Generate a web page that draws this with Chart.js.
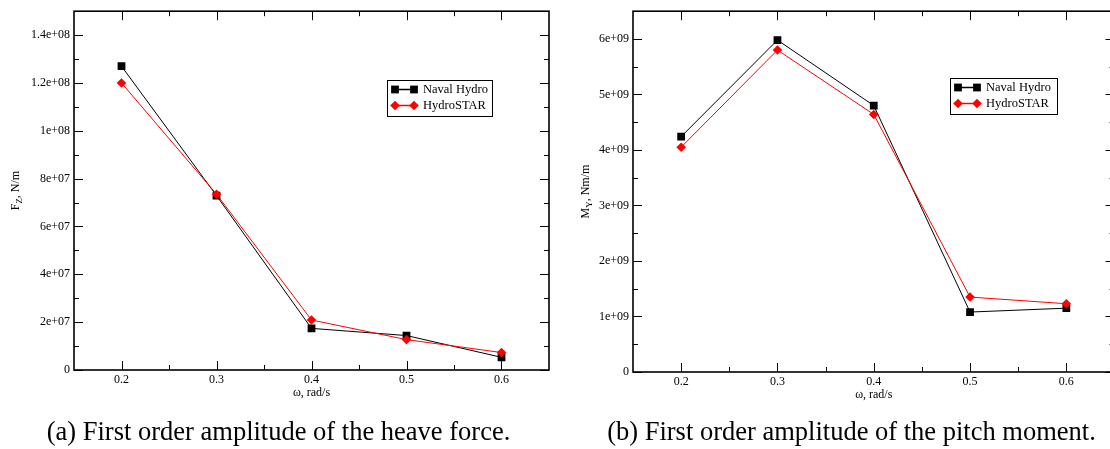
<!DOCTYPE html>
<html>
<head>
<meta charset="utf-8">
<script src="https://cdn.jsdelivr.net/npm/chart.js@4.4.0/dist/chart.umd.min.js"></script>
<style>
  html, body { margin: 0; padding: 0; background: #fff; overflow: hidden; width: 1110px; height: 449px; }
  #wrapA { position: absolute; left: 0; top: 0; }
  #wrapB { position: absolute; left: 560px; top: 0; }
  .caption {
    position: absolute; top: 416px; line-height: 30px;
    font-family: 'Liberation Serif', 'Times New Roman', serif; font-size: 26.5px;
    white-space: nowrap; transform: translateX(-50%); color: #000;
  }
</style>
</head>
<body>
<div id="wrapA"><canvas id="heaveChart" width="560" height="420"></canvas></div>
<div id="wrapB"><canvas id="pitchChart" width="560" height="420"></canvas></div>
<div class="caption" style="left:278.5px">(a) First order amplitude of the heave force.</div>
<div class="caption" style="left:851.5px">(b) First order amplitude of the pitch moment.</div>
<script>
  // frecuencias (rad/s)
  const omega = [0.2, 0.3, 0.4, 0.5, 0.6];

  // fuerza de arrastre vertical, N/m
  const heaveNaval = [1.27e8, 7.29e7, 1.74e7, 1.44e7, 5.3e6];
  const heaveHydroStar = [1.20e8, 7.35e7, 2.09e7, 1.27e7, 7.3e6];

  // momento de cabeceo, Nm/m
  const pitchNaval = [4.24e9, 5.98e9, 4.80e9, 1.08e9, 1.15e9];
  const pitchHydroStar = [4.05e9, 5.80e9, 4.64e9, 1.35e9, 1.23e9];

  // marcas de los ejes
  const omegaTicks = [0.2, 0.3, 0.4, 0.5, 0.6];
  const heaveTicks = [0, 2e7, 4e7, 6e7, 8e7, 1e8, 1.2e8, 1.4e8];
  const pitchTicks = [0, 1e9, 2e9, 3e9, 4e9, 5e9, 6e9];

  const serif = "'Liberation Serif', 'Times New Roman', serif";

  function expLabel(v) {
    if (v === 0) return '0';
    return v.toExponential().replace(/e\+(\d)$/, 'e+0$1');
  }

  // marco con marcas hacia dentro en los cuatro lados
  const frameTicks = {
    id: 'frameTicks',
    beforeDatasetsDraw(chart) {
      const ctx = chart.ctx;
      const a = chart.chartArea;
      const xs = chart.scales.x, ys = chart.scales.y;
      const mids = vals => vals.slice(1).map((v, i) => (v + vals[i]) / 2);
      const xv = xs.ticks.map(t => t.value);
      const yv = ys.ticks.map(t => t.value);
      ctx.save();
      ctx.strokeStyle = '#000';
      ctx.lineWidth = 1;
      ctx.beginPath();
      const xTick = (v, len) => {
        const px = Math.round(xs.getPixelForValue(v)) + 0.5;
        ctx.moveTo(px, a.bottom); ctx.lineTo(px, a.bottom - len);
        ctx.moveTo(px, a.top); ctx.lineTo(px, a.top + len);
      };
      const yTick = (v, len) => {
        const py = Math.round(ys.getPixelForValue(v)) + 0.5;
        ctx.moveTo(a.left, py); ctx.lineTo(a.left + len, py);
        ctx.moveTo(a.right, py); ctx.lineTo(a.right - len, py);
      };
      xv.forEach(v => xTick(v, 9));
      mids(xv).forEach(v => xTick(v, 5));
      yv.forEach(v => yTick(v, 9));
      mids(yv).concat([yv[yv.length - 1] + (yv[1] - yv[0]) / 2]).forEach(v => {
        if (v < ys.max) yTick(v, 5);
      });
      ctx.stroke();
      ctx.lineWidth = 1.6;
      ctx.strokeRect(a.left, a.top, a.right - a.left, a.bottom - a.top);
      ctx.restore();
    }
  };

  // títulos de los ejes (con subíndice en el eje y)
  const axisTitles = {
    id: 'axisTitles',
    afterDraw(chart, args, opts) {
      const ctx = chart.ctx;
      const a = chart.chartArea;
      ctx.save();
      ctx.fillStyle = '#000';
      ctx.textBaseline = 'middle';
      ctx.textAlign = 'center';
      ctx.font = '12px ' + serif;
      ctx.fillText(opts.xTitle, (a.left + a.right) / 2, a.bottom + 23);

      ctx.translate(opts.yTitleX, (a.top + a.bottom) / 2);
      ctx.rotate(-Math.PI / 2);
      ctx.textAlign = 'left';
      ctx.textBaseline = 'alphabetic';
      const parts = opts.yTitle;
      const fontFor = p => (p.sub ? '9px ' : '12px ') + serif;
      let total = 0;
      parts.forEach(p => { ctx.font = fontFor(p); total += ctx.measureText(p.text).width; });
      let x = -total / 2;
      parts.forEach(p => {
        ctx.font = fontFor(p);
        ctx.fillText(p.text, x, p.sub ? 7 : 4);
        x += ctx.measureText(p.text).width;
      });
      ctx.restore();
    }
  };

  // leyenda con recuadro dentro del área del gráfico
  const boxLegend = {
    id: 'boxLegend',
    afterDraw(chart, args, opts) {
      const ctx = chart.ctx;
      const { x, y, w, h } = opts;
      ctx.save();
      ctx.strokeStyle = '#000';
      ctx.lineWidth = 1;
      ctx.strokeRect(x + 0.5, y + 0.5, w, h);
      chart.data.datasets.forEach((ds, i) => {
        const ry = y + 9.5 + i * 16;
        ctx.strokeStyle = ds.borderColor;
        ctx.fillStyle = ds.backgroundColor;
        ctx.lineWidth = 1.5;
        ctx.beginPath();
        ctx.moveTo(x + 8, ry);
        ctx.lineTo(x + 27, ry);
        ctx.stroke();
        [x + 8, x + 27].forEach(px => {
          Chart.helpers.drawPoint(ctx, { pointStyle: ds.pointStyle, radius: ds.pointRadius, borderWidth: 0, rotation: 0 }, px, ry);
        });
        ctx.fillStyle = '#000';
        ctx.font = '12.5px ' + serif;
        ctx.textBaseline = 'middle';
        ctx.fillText(ds.label, x + 36, ry + 0.5);
      });
      ctx.restore();
    }
  };

  function makeDatasets(naval, hydro) {
    return [
      {
        label: 'Naval Hydro',
        data: omega.map((x, i) => ({ x: x, y: naval[i] })),
        borderColor: '#000000',
        backgroundColor: '#000000',
        borderWidth: 1,
        pointStyle: 'rect',
        pointRadius: 5.5,
        pointBorderWidth: 0,
        order: 2
      },
      {
        label: 'HydroSTAR',
        data: omega.map((x, i) => ({ x: x, y: hydro[i] })),
        borderColor: '#ff0000',
        backgroundColor: '#ff0000',
        borderWidth: 1,
        pointStyle: 'rectRot',
        pointRadius: 4.8,
        pointBorderWidth: 0,
        order: 1
      }
    ];
  }

  function makeOptions(cfg) {
    return {
      responsive: false,
      animation: false,
      devicePixelRatio: 1,
      layout: { padding: cfg.padding },
      scales: {
        x: {
          type: 'linear',
          min: 0.15,
          max: 0.65,
          afterBuildTicks: s => { s.ticks = omegaTicks.map(v => ({ value: v })); },
          afterFit: s => { s.height = cfg.xHeight; },
          grid: { display: false, drawTicks: false },
          border: { display: false },
          ticks: {
            padding: 3, color: '#000', autoSkip: false, maxRotation: 0,
            font: { family: serif, size: 12 },
            callback: v => String(v)
          }
        },
        y: {
          type: 'linear',
          min: 0,
          max: cfg.yMax,
          afterBuildTicks: s => { s.ticks = cfg.yTicks.map(v => ({ value: v })); },
          afterFit: s => { s.width = cfg.yWidth; },
          grid: { display: false, drawTicks: false },
          border: { display: false },
          ticks: {
            padding: 4, color: '#000', autoSkip: false,
            font: { family: serif, size: 12 },
            callback: v => expLabel(v)
          }
        }
      },
      plugins: {
        legend: { display: false },
        tooltip: { enabled: false },
        axisTitles: { xTitle: 'ω, rad/s', yTitle: cfg.yTitle, yTitleX: cfg.yTitleX },
        boxLegend: cfg.legend
      }
    };
  }

  // Gráfico (a): fuerza vertical
  new Chart(document.getElementById('heaveChart').getContext('2d'), {
    type: 'line',
    data: { datasets: makeDatasets(heaveNaval, heaveHydroStar) },
    options: makeOptions({
      padding: { top: 11, right: 11, left: 0, bottom: 0 },
      xHeight: 50, yWidth: 74, yMax: 1.5e8, yTicks: heaveTicks,
      yTitle: [{ text: 'F' }, { text: 'Z', sub: true }, { text: ', N/m' }],
      yTitleX: 15,
      legend: { x: 387, y: 80, w: 105, h: 36 }
    }),
    plugins: [frameTicks, axisTitles, boxLegend]
  });

  // Gráfico (b): momento de cabeceo
  new Chart(document.getElementById('pitchChart').getContext('2d'), {
    type: 'line',
    data: { datasets: makeDatasets(pitchNaval, pitchHydroStar) },
    options: makeOptions({
      padding: { top: 7, right: 5, left: 0, bottom: 0 },
      xHeight: 48, yWidth: 73, yMax: 6.5e9, yTicks: pitchTicks,
      yTitle: [{ text: 'M' }, { text: 'Y', sub: true }, { text: ', Nm/m' }],
      yTitleX: 25,
      legend: { x: 390, y: 78, w: 107, h: 36 }
    }),
    plugins: [frameTicks, axisTitles, boxLegend]
  });
</script>
</body>
</html>
